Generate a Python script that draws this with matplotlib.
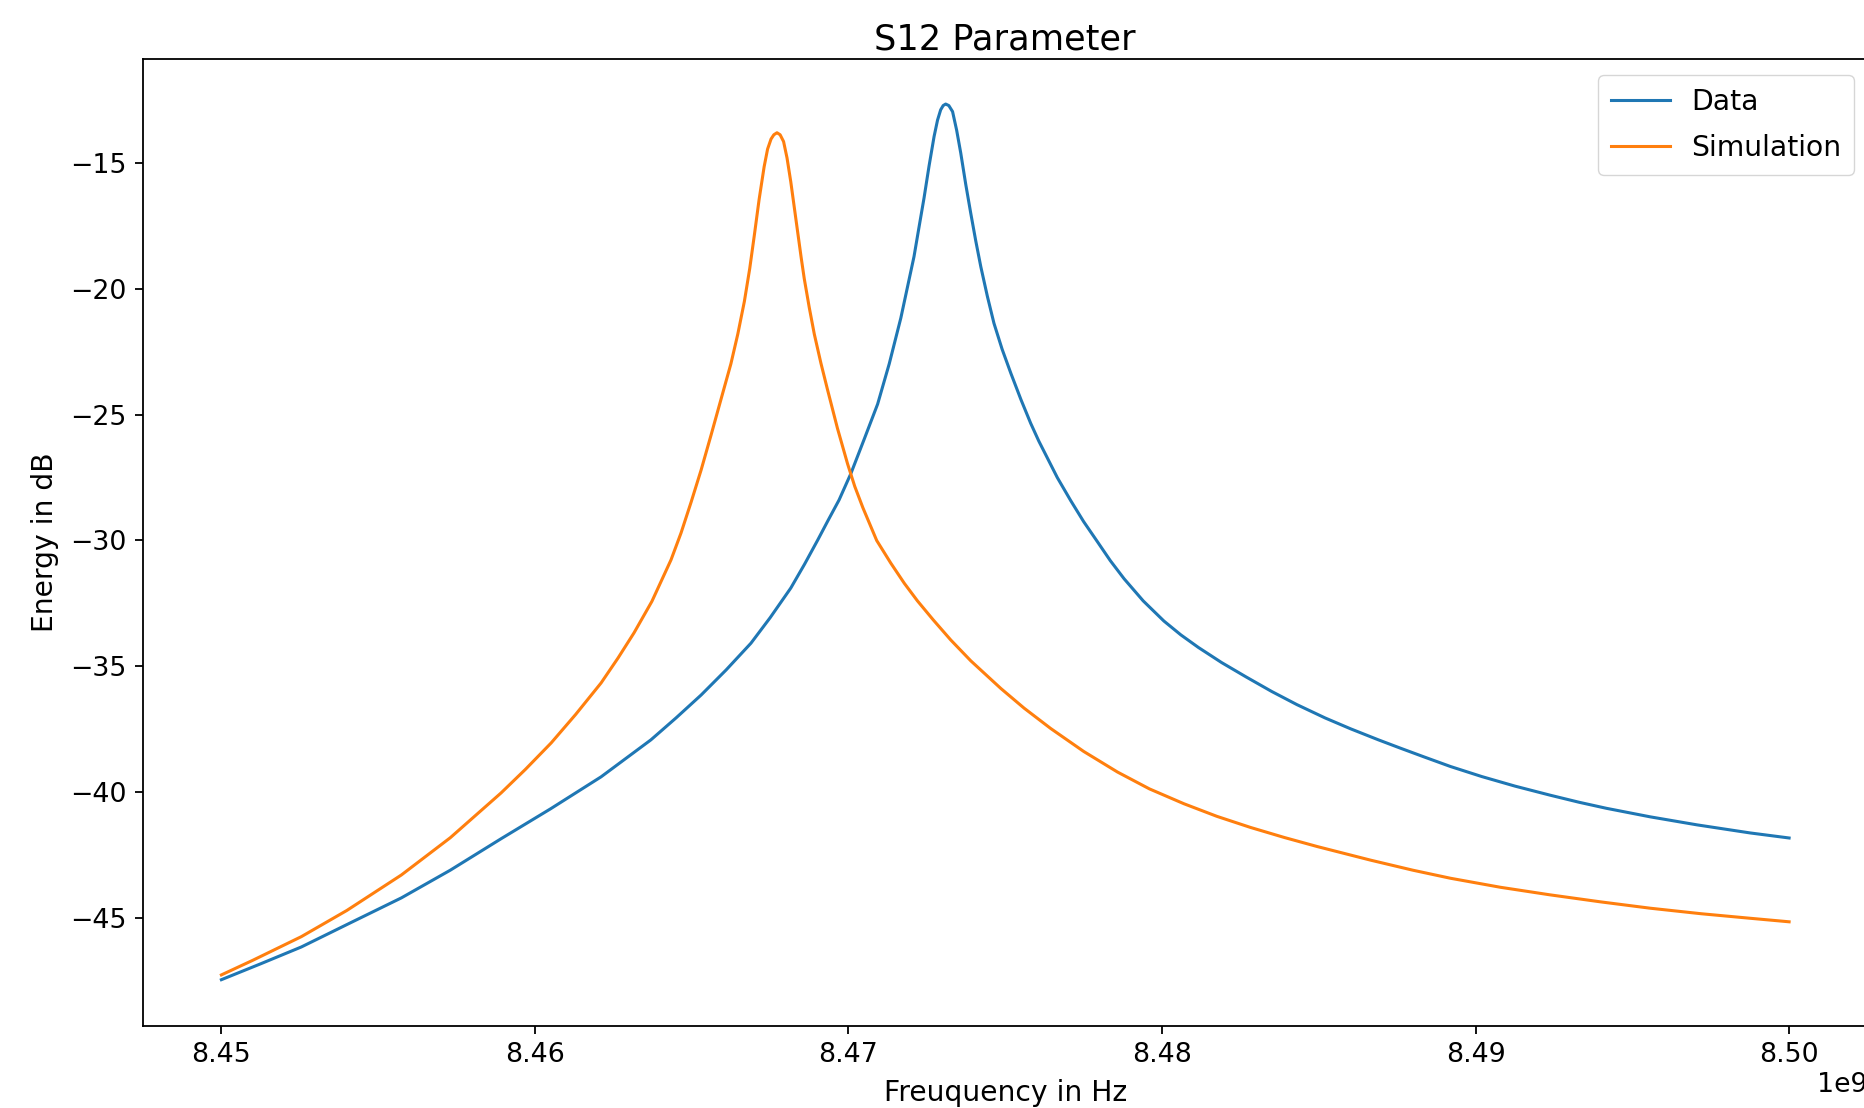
import matplotlib
matplotlib.use("Agg")
import matplotlib.pyplot as plt
import numpy as np

# Values.
# Frequencies are given as MHz above 8.45 GHz; levels are in dB.
F0_HZ = 8.45e9

data_offset_mhz = [0.00, 1.25, 2.55, 4.10, 5.74, 7.30, 8.92, 10.50, 12.11, 13.70,
                   14.50, 15.30, 16.10, 16.89, 17.50, 18.16, 18.60, 19.02, 19.35, 19.70,
                   20.08, 20.50, 20.93, 21.30, 21.67, 21.88, 22.09, 22.25, 22.41, 22.57,
                   22.73, 22.84, 22.94, 23.02, 23.10, 23.20, 23.32, 23.45, 23.58, 23.74,
                   23.90, 24.06, 24.22, 24.43, 24.64, 24.90, 25.18, 25.50, 25.81, 26.07,
                   26.66, 27.09, 27.50, 27.94, 28.35, 28.79, 29.40, 30.06, 30.60, 31.16,
                   31.90, 32.68, 33.50, 34.30, 35.20, 36.01, 36.90, 37.60, 38.36, 39.20,
                   40.20, 41.26, 42.38, 43.30, 44.17, 45.57, 47.07, 48.76, 50.00]
data_db = [-47.45, -46.82, -46.15, -45.20, -44.20, -43.10, -41.85, -40.66, -39.39, -37.92,
           -37.05, -36.14, -35.14, -34.08, -33.07, -31.89, -30.94, -29.98, -29.20, -28.39,
           -27.33, -25.98, -24.58, -22.98, -21.16, -19.94, -18.72, -17.55, -16.39, -15.12,
           -13.95, -13.30, -12.89, -12.72, -12.66, -12.72, -12.96, -13.70, -14.60, -15.85,
           -17.00, -18.10, -19.12, -20.30, -21.37, -22.40, -23.36, -24.40, -25.34, -26.05,
           -27.50, -28.42, -29.25, -30.05, -30.80, -31.52, -32.40, -33.20, -33.75, -34.25,
           -34.85, -35.42, -36.00, -36.52, -37.05, -37.48, -37.92, -38.25, -38.60, -38.98,
           -39.38, -39.76, -40.12, -40.40, -40.64, -40.98, -41.30, -41.62, -41.82]

sim_offset_mhz = [0.00, 1.00, 2.55, 4.00, 5.74, 7.30, 8.92, 9.70, 10.52, 11.30,
                  12.11, 12.65, 13.16, 13.73, 14.34, 14.66, 14.98, 15.30, 15.62, 15.95,
                  16.25, 16.47, 16.68, 16.85, 17.00, 17.15, 17.31, 17.42, 17.53, 17.62,
                  17.72, 17.82, 17.93, 18.04, 18.16, 18.27, 18.38, 18.49, 18.59, 18.75,
                  18.91, 19.12, 19.33, 19.65, 19.97, 20.20, 20.46, 20.90, 21.35, 21.78,
                  22.20, 22.70, 23.26, 23.90, 24.86, 25.60, 26.45, 27.50, 28.58, 29.60,
                  30.70, 31.75, 32.82, 33.90, 34.95, 36.65, 38.00, 39.20, 40.80, 42.38,
                  44.00, 45.57, 47.20, 48.76, 50.00]
sim_db = [-47.26, -46.68, -45.74, -44.70, -43.29, -41.81, -40.03, -39.09, -38.04, -36.91,
          -35.66, -34.67, -33.67, -32.42, -30.77, -29.70, -28.48, -27.20, -25.80, -24.32,
          -22.98, -21.80, -20.50, -19.20, -17.85, -16.45, -15.15, -14.45, -14.05, -13.88,
          -13.80, -13.88, -14.15, -14.80, -15.75, -16.75, -17.75, -18.75, -19.60, -20.75,
          -21.80, -22.95, -24.00, -25.55, -26.95, -27.85, -28.70, -30.00, -30.90, -31.70,
          -32.40, -33.15, -33.95, -34.78, -35.88, -36.66, -37.47, -38.38, -39.20, -39.87,
          -40.46, -40.96, -41.40, -41.80, -42.16, -42.70, -43.10, -43.42, -43.78, -44.08,
          -44.36, -44.61, -44.83, -45.01, -45.15]

series_labels = ["Data", "Simulation"]
title = "S12 Parameter"
xlabel = "Freuquency in Hz"
ylabel = "Energy in dB"

W, H = 1865, 1108
fig = plt.figure(figsize=(W / 100, H / 100), dpi=100)
ax = fig.add_axes([143 / W, 1 - 1026 / H, (1867.5 - 143) / W, (1026 - 59) / H])

f_data = F0_HZ + np.array(data_offset_mhz) * 1e6
f_sim = F0_HZ + np.array(sim_offset_mhz) * 1e6
ax.plot(f_data, data_db, color="#1f77b4", lw=2.2, label=series_labels[0])
ax.plot(f_sim, sim_db, color="#ff7f0e", lw=2.2, label=series_labels[1])

ax.set_xlim(8.4475e9, 8.5025e9)
ax.set_ylim(-49.29, -10.87)
ax.set_xticks(np.arange(8.45, 8.5001, 0.01) * 1e9)
ax.set_yticks([-45, -40, -35, -30, -25, -20, -15])

for s in ax.spines.values():
    s.set_linewidth(1.3)
ax.tick_params(labelsize=19.3, length=5.8, width=1.3, pad=5.8)
ax.xaxis.get_offset_text().set_fontsize(19.3)

ax.set_title(title, fontsize=25.3, pad=7.2)
ax.set_xlabel(xlabel, fontsize=20.3, labelpad=8)
ax.set_ylabel(ylabel, fontsize=20.3, labelpad=8)

ax.legend(loc="upper right", bbox_to_anchor=(1854 / W, 1 - 75 / H),
          bbox_transform=fig.transFigure, borderaxespad=0, fontsize=20.3,
          handlelength=2.1, handletextpad=0.75, borderpad=0.45, labelspacing=0.66)

fig.savefig("out.png", dpi=100)
